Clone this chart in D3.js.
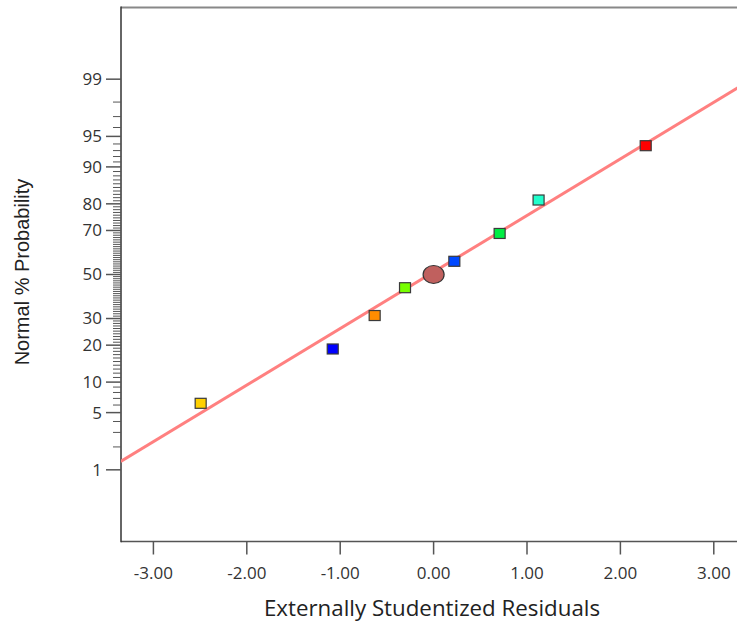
<!DOCTYPE html>
<html>
<head>
<meta charset="utf-8">
<script src="https://cdn.jsdelivr.net/npm/d3@7"></script>
<style>
  html, body { margin: 0; padding: 0; background: #fff; }
  svg { display: block; }
</style>
</head>
<body>
<svg id="chart" width="737" height="626"></svg>
<script>
// ---------- data ----------
const residuals     = [-2.494, -1.080, -0.631, -0.306, 0.222, 0.707, 1.124, 2.271];
const probabilities = [6.25, 18.75, 31.25, 43.75, 56.25, 68.75, 81.25, 93.75];
const pointColors   = ["#FFD000", "#0000FF", "#FF8C00", "#77FF00", "#0048FF", "#00EE44", "#20FFCC", "#FF0000"];
const centerPoint   = { residual: 0, probability: 50 };
const fitLineResiduals     = [-3.35, 3.35];
const fitLineProbabilities = [1.30, 98.89];
const xTicks      = [-3, -2, -1, 0, 1, 2, 3];
const xTickLabels = ["-3.00", "-2.00", "-1.00", "0.00", "1.00", "2.00", "3.00"];
const yMajorTicks = [1, 5, 10, 20, 30, 50, 70, 80, 90, 95, 99];
const yMinorTicks = d3.range(1, 100).filter(p => !yMajorTicks.includes(p));
const xTitle = "Externally Studentized Residuals";
const yTitle = "Normal % Probability";

// ---------- inverse normal (probit) ----------
function probit(p) {
  const a = [-3.969683028665376e+01, 2.209460984245205e+02, -2.759285104469687e+02, 1.383577518672690e+02, -3.066479806614716e+01, 2.506628277459239e+00];
  const b = [-5.447609879822406e+01, 1.615858368580409e+02, -1.556989798598866e+02, 6.680131188771972e+01, -1.328068155288572e+01];
  const c = [-7.784894002430293e-03, -3.223964580411365e-01, -2.400758277161838e+00, -2.549671010115819e+00, 4.374664141464968e+00, 2.938163982698783e+00];
  const d = [7.784695709041462e-03, 3.224671290700398e-01, 2.445134137142996e+00, 3.754408661907416e+00];
  const pl = 0.02425, ph = 1 - pl;
  let q, r;
  if (p < pl) {
    q = Math.sqrt(-2 * Math.log(p));
    return (((((c[0]*q+c[1])*q+c[2])*q+c[3])*q+c[4])*q+c[5]) / ((((d[0]*q+d[1])*q+d[2])*q+d[3])*q+1);
  } else if (p <= ph) {
    q = p - 0.5; r = q*q;
    return (((((a[0]*r+a[1])*r+a[2])*r+a[3])*r+a[4])*r+a[5])*q / (((((b[0]*r+b[1])*r+b[2])*r+b[3])*r+b[4])*r+1);
  } else {
    q = Math.sqrt(-2 * Math.log(1 - p));
    return -(((((c[0]*q+c[1])*q+c[2])*q+c[3])*q+c[4])*q+c[5]) / ((((d[0]*q+d[1])*q+d[2])*q+d[3])*q+1);
  }
}

// ---------- layout ----------
const plotLeft = 121, plotTop = 7.5, plotBottom = 541.5, plotRight = 746.2;
const xScale = d3.scaleLinear().domain([-3.347, 3.347]).range([plotLeft, plotRight]);
const zScale = d3.scaleLinear().domain([-3.18, 3.18]).range([plotBottom, plotTop]);
const yScale = p => zScale(probit(p / 100));

const svg = d3.select("#chart");
svg.append("rect").attr("width", 737).attr("height", 626).attr("fill", "#fff");

// frame
svg.append("line").attr("x1", plotLeft).attr("x2", 760).attr("y1", plotTop).attr("y2", plotTop)
  .attr("stroke", "#888").attr("stroke-width", 2);
svg.append("line").attr("x1", plotLeft).attr("x2", 760).attr("y1", plotBottom).attr("y2", plotBottom)
  .attr("stroke", "#555").attr("stroke-width", 1.5);
svg.append("line").attr("x1", plotLeft).attr("x2", plotLeft).attr("y1", plotTop - 1).attr("y2", plotBottom + 0.75)
  .attr("stroke", "#333").attr("stroke-width", 1.5);

// x axis ticks
const gx = svg.append("g");
gx.selectAll("line").data(xTicks).join("line")
  .attr("x1", d => xScale(d)).attr("x2", d => xScale(d))
  .attr("y1", plotBottom).attr("y2", plotBottom + 13)
  .attr("stroke", "#555").attr("stroke-width", 1.5);
gx.selectAll("text").data(xTicks).join("text")
  .attr("x", d => xScale(d)).attr("y", 579)
  .attr("text-anchor", "middle")
  .attr("font-family", "'Open Sans', sans-serif").attr("font-size", 17)
  .attr("fill", "#333")
  .text((d, i) => xTickLabels[i]);

// y axis ticks
const gy = svg.append("g");
gy.selectAll("line.minor").data(yMinorTicks).join("line").attr("class", "minor")
  .attr("x1", plotLeft - 8).attr("x2", plotLeft)
  .attr("y1", d => yScale(d)).attr("y2", d => yScale(d))
  .attr("stroke", "#555").attr("stroke-width", 1);
gy.selectAll("line.major").data(yMajorTicks).join("line").attr("class", "major")
  .attr("x1", plotLeft - 15).attr("x2", plotLeft)
  .attr("y1", d => yScale(d)).attr("y2", d => yScale(d))
  .attr("stroke", "#555").attr("stroke-width", 1.5);
gy.selectAll("text").data(yMajorTicks).join("text")
  .attr("x", 102).attr("y", d => yScale(d))
  .attr("dy", "0.35em")
  .attr("text-anchor", "end")
  .attr("font-family", "'Open Sans', sans-serif").attr("font-size", 17)
  .attr("fill", "#333")
  .text(d => d);

// titles
svg.append("text").attr("x", 432).attr("y", 616)
  .attr("text-anchor", "middle")
  .attr("font-family", "'Open Sans', sans-serif").attr("font-size", 22.3)
  .attr("fill", "#222").text(xTitle);
svg.append("text")
  .attr("transform", "translate(29,272) rotate(-90)")
  .attr("text-anchor", "middle")
  .attr("font-family", "'Liberation Sans', Arial, sans-serif").attr("font-size", 20)
  .attr("fill", "#222").text(yTitle);

// plot clip
svg.append("clipPath").attr("id", "plotclip").append("rect")
  .attr("x", plotLeft).attr("y", plotTop).attr("width", plotRight - plotLeft).attr("height", plotBottom - plotTop);

// fit line
const lineData = fitLineResiduals.map((r, i) => ({ r, p: fitLineProbabilities[i] }));
svg.append("path").datum(lineData)
  .attr("clip-path", "url(#plotclip)")
  .attr("d", d3.line().x(d => xScale(d.r)).y(d => yScale(d.p)))
  .attr("stroke", "#FF8080").attr("stroke-width", 3).attr("fill", "none");

// points
const pts = residuals.map((r, i) => ({ r, p: probabilities[i], c: pointColors[i] }));
svg.append("g").selectAll("rect").data(pts).join("rect")
  .attr("x", d => xScale(d.r) - 5.5).attr("y", d => yScale(d.p) - 5)
  .attr("width", 11).attr("height", 10)
  .attr("fill", d => d.c)
  .attr("stroke", "#3a3a3a").attr("stroke-width", 1.2);

// center circle
svg.append("ellipse")
  .attr("cx", xScale(centerPoint.residual)).attr("cy", yScale(centerPoint.probability))
  .attr("rx", 10.5).attr("ry", 9)
  .attr("fill", "#C0605E").attr("stroke", "#333").attr("stroke-width", 1.2);
</script>
</body>
</html>
